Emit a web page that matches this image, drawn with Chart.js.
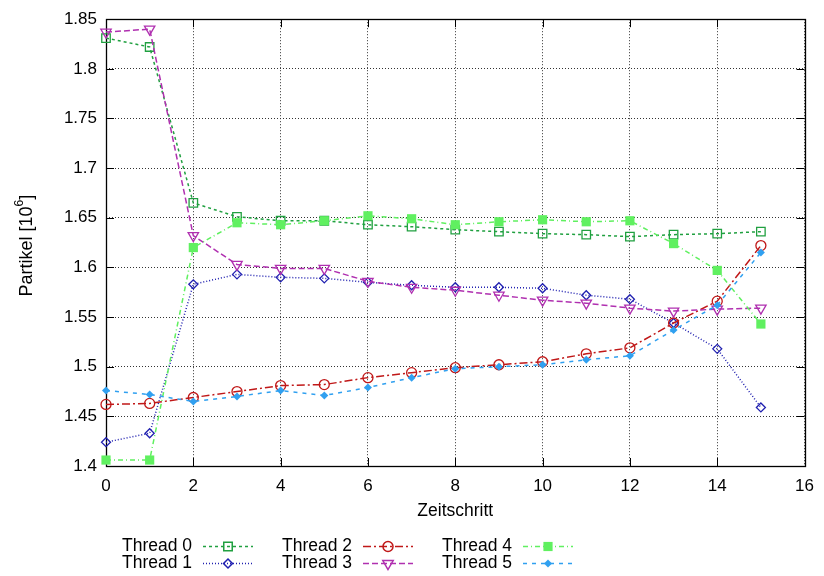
<!DOCTYPE html>
<html>
<head>
<meta charset="utf-8">
<title>Partikel je Thread</title>
<script src="https://cdn.jsdelivr.net/npm/chart.js@4.4.1/dist/chart.umd.min.js"></script>
<style>
  html, body { margin: 0; padding: 0; background: #fff; }
  canvas { display: block; }
</style>
</head>
<body>
<canvas id="chart" width="824" height="576"></canvas>
<script>
// Zeitschritte und Partikelzahl (in 10^6) pro Thread
const steps = [0, 1, 2, 3, 4, 5, 6, 7, 8, 9, 10, 11, 12, 13, 14, 15];
const thread0 = [1.831, 1.822, 1.665, 1.651, 1.647, 1.647, 1.643, 1.641, 1.638, 1.636, 1.634, 1.633, 1.631, 1.633, 1.634, 1.636];
const thread1 = [1.424, 1.433, 1.583, 1.593, 1.590, 1.589, 1.585, 1.582, 1.580, 1.580, 1.579, 1.572, 1.568, 1.544, 1.518, 1.459];
const thread2 = [1.462, 1.463, 1.469, 1.475, 1.481, 1.482, 1.489, 1.494, 1.499, 1.502, 1.505, 1.513, 1.519, 1.544, 1.566, 1.622];
const thread3 = [1.837, 1.840, 1.632, 1.603, 1.599, 1.599, 1.586, 1.580, 1.577, 1.572, 1.567, 1.564, 1.559, 1.556, 1.558, 1.559];
const thread4 = [1.406, 1.406, 1.620, 1.645, 1.643, 1.647, 1.652, 1.649, 1.643, 1.646, 1.648, 1.646, 1.647, 1.624, 1.597, 1.543];
const thread5 = [1.476, 1.472, 1.465, 1.470, 1.476, 1.471, 1.479, 1.489, 1.498, 1.500, 1.502, 1.507, 1.511, 1.537, 1.562, 1.615];

const labels = ['Thread 0', 'Thread 1', 'Thread 2', 'Thread 3', 'Thread 4', 'Thread 5'];
const values = [thread0, thread1, thread2, thread3, thread4, thread5];

const FONT = '"Liberation Sans", Arial, Helvetica, sans-serif';

// gnuplot-artige Linientypen
const styles = [
  { color: '#20a040', dash: [3, 3], point: 'rect', radius: 6, filled: false, rotation: 0 },
  { color: '#2020b0', dash: [1, 2], point: 'rectRot', radius: 4.5, filled: false, rotation: 0 },
  { color: '#c01818', dash: [8, 3, 2, 3], point: 'circle', radius: 5, filled: false, rotation: 0 },
  { color: '#b030b0', dash: [6, 3], point: 'triangle', radius: 6, filled: false, rotation: 180 },
  { color: '#60f060', dash: [5, 3, 1, 3], point: 'rect', radius: 6.5, filled: true, rotation: 0 },
  { color: '#30a0f0', dash: [4, 5], point: 'rectRot', radius: 4, filled: true, rotation: 0 },
];

const datasets = values.map((vals, i) => {
  const s = styles[i];
  return {
    label: labels[i],
    data: vals.map((v, j) => ({ x: steps[j], y: v })),
    borderColor: s.color,
    borderWidth: 1.5,
    borderDash: s.dash,
    pointStyle: s.point,
    pointRadius: s.radius,
    pointRotation: s.rotation,
    pointBorderColor: s.color,
    pointBackgroundColor: s.filled ? s.color : 'rgba(0,0,0,0)',
    pointBorderWidth: s.filled ? 0 : 1.3,
    tension: 0,
    clip: false,
    order: 5 - i,
  };
});

// Rahmen, Tickmarken, y-Achsentitel und Legende
const gnuplotFrame = {
  id: 'gnuplotFrame',
  beforeDatasetsDraw(chart) {
    const { ctx, chartArea: a, scales: { x, y } } = chart;
    ctx.save();
    ctx.strokeStyle = '#000';
    ctx.lineWidth = 1;
    ctx.setLineDash([]);
    ctx.beginPath();
    x.ticks.forEach(t => {
      const px = Math.round(x.getPixelForValue(t.value)) + 0.5;
      ctx.moveTo(px, a.bottom); ctx.lineTo(px, a.bottom - 8);
      ctx.moveTo(px, a.top); ctx.lineTo(px, a.top + 8);
    });
    y.ticks.forEach(t => {
      const py = Math.round(y.getPixelForValue(t.value)) + 0.5;
      ctx.moveTo(a.left, py); ctx.lineTo(a.left + 8, py);
      ctx.moveTo(a.right, py); ctx.lineTo(a.right - 8, py);
    });
    ctx.stroke();
    ctx.lineWidth = 1.3;
    ctx.strokeRect(Math.round(a.left) + 0.5, Math.round(a.top) + 0.5,
      Math.round(a.right - a.left), Math.round(a.bottom - a.top));
    ctx.restore();
  },
  afterDraw(chart) {
    const { ctx, chartArea: a } = chart;
    ctx.save();
    // y-Achsentitel mit Exponent
    ctx.translate(27, (a.top + a.bottom) / 2 + 3);
    ctx.rotate(-Math.PI / 2);
    ctx.fillStyle = '#000';
    ctx.textBaseline = 'middle';
    const main = 'Partikel [10';
    const big = '18px ' + FONT, small = '12px ' + FONT;
    ctx.font = big;
    const w1 = ctx.measureText(main).width;
    const w3 = ctx.measureText(']').width;
    ctx.font = small;
    const w2 = ctx.measureText('6').width;
    let tx = -(w1 + w2 + w3) / 2;
    ctx.font = big;
    ctx.textAlign = 'left';
    ctx.fillText(main, tx, 0);
    ctx.font = small;
    ctx.fillText('6', tx + w1, -7);
    ctx.font = big;
    ctx.fillText(']', tx + w1 + w2, 0);
    ctx.restore();

    // Legende: drei Spalten, zwei Zeilen
    ctx.save();
    ctx.font = '17.5px ' + FONT;
    ctx.textBaseline = 'middle';
    ctx.textAlign = 'right';
    datasets.forEach((ds, i) => {
      const col = Math.floor(i / 2), row = i % 2;
      const textRight = 192 + col * 160;
      const cy = 546 + row * 17;
      const s = styles[i];
      ctx.fillStyle = '#000';
      ctx.fillText(ds.label, textRight, cy);
      const x0 = textRight + 11, x1 = textRight + 61;
      ctx.strokeStyle = s.color;
      ctx.lineWidth = 1.5;
      ctx.setLineDash(s.dash);
      ctx.beginPath();
      ctx.moveTo(x0, cy + 0.5);
      ctx.lineTo(x1, cy + 0.5);
      ctx.stroke();
      ctx.setLineDash([]);
      ctx.fillStyle = s.filled ? s.color : 'rgba(0,0,0,0)';
      Chart.helpers.drawPoint(ctx, {
        pointStyle: s.point,
        radius: s.radius,
        rotation: s.rotation,
        borderWidth: s.filled ? 0 : 1.3,
      }, (x0 + x1) / 2, cy + 0.5);
    });
    ctx.restore();
  }
};

new Chart(document.getElementById('chart'), {
  type: 'line',
  data: { datasets },
  options: {
    responsive: false,
    animation: false,
    devicePixelRatio: 1,
    layout: { padding: { left: 0, right: 13, top: 17, bottom: 50 } },
    plugins: {
      legend: { display: false },
      tooltip: { enabled: false },
    },
    scales: {
      x: {
        type: 'linear',
        min: 0,
        max: 16,
        afterFit: s => { s.height = 60; },
        ticks: { stepSize: 2, padding: 10, color: '#000', font: { family: FONT, size: 17 } },
        grid: { color: '#333', drawTicks: false, lineWidth: 1 },
        border: { display: false, dash: [1, 2] },
        title: { display: true, text: 'Zeitschritt', color: '#000', font: { family: FONT, size: 17.5 }, padding: { top: 0, bottom: 4 } },
      },
      y: {
        type: 'linear',
        min: 1.4,
        max: 1.85,
        afterFit: s => { s.width = 106; },
        ticks: {
          stepSize: 0.05,
          padding: 9,
          color: '#000',
          font: { family: FONT, size: 17 },
          callback: v => String(+v.toFixed(2)),
        },
        grid: { color: '#333', drawTicks: false, lineWidth: 1 },
        border: { display: false, dash: [1, 2] },
      },
    },
  },
  plugins: [gnuplotFrame],
});
</script>
</body>
</html>
